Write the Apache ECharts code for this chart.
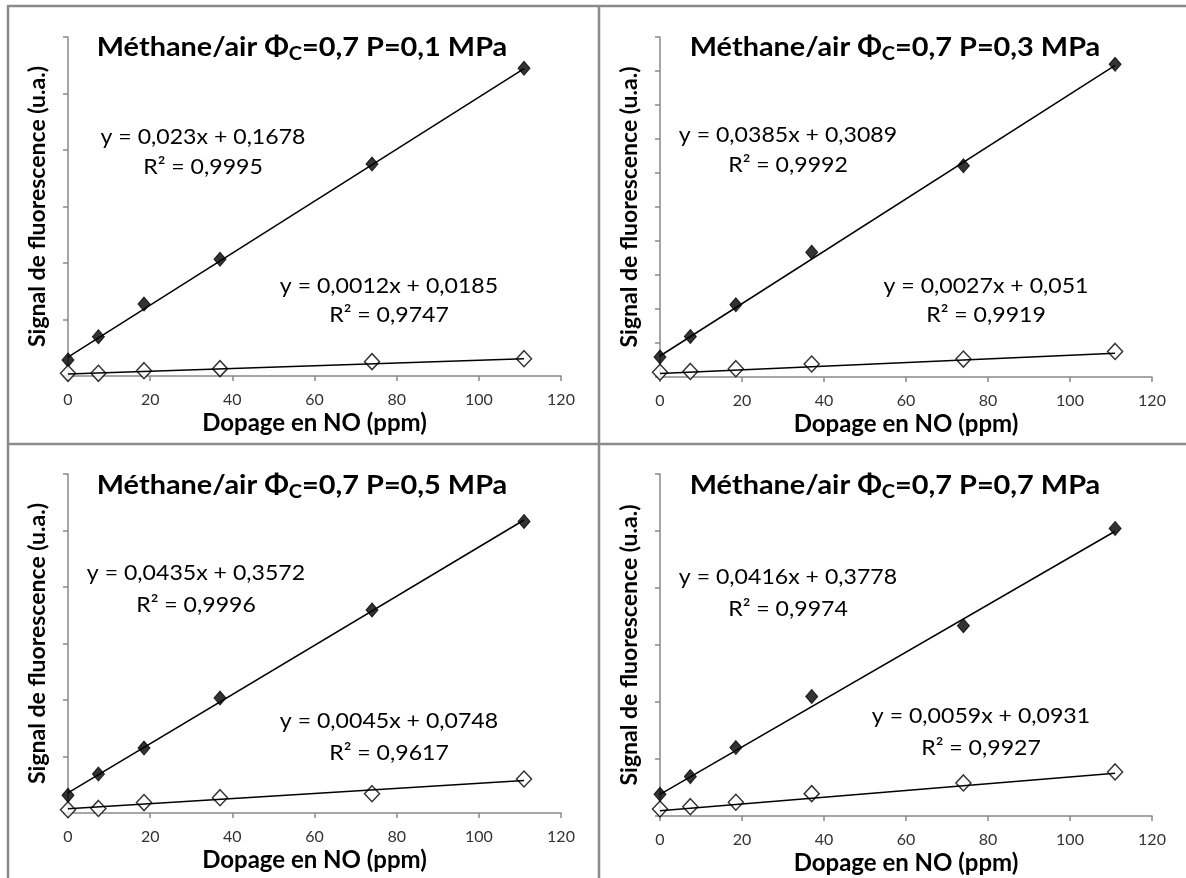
<!DOCTYPE html>
<html>
<head>
<meta charset="utf-8">
<script src="https://cdn.jsdelivr.net/npm/echarts@6/dist/echarts.min.js"></script>
<style>
html,body{margin:0;padding:0;background:#fff;}
#chart{width:1186px;height:878px;}
</style>
</head>
<body>
<div id="chart"></div>
<script>
// ---- data ----
const doping = [0, 7.4, 18.5, 37, 74, 111];
const xTicks = [0, 20, 40, 60, 80, 100, 120];
const pressures = ['0,1', '0,3', '0,5', '0,7'];

const filled1 = [0.142, 0.348, 0.637, 1.033, 1.876, 2.723];
const open1   = [0.024, 0.024, 0.047, 0.065, 0.127, 0.153];
const filled2 = [0.294, 0.596, 1.061, 1.835, 3.106, 4.599];
const open2   = [0.070, 0.082, 0.122, 0.191, 0.264, 0.376];
const filled3 = [0.312, 0.690, 1.150, 2.035, 3.593, 5.161];
const open3   = [0.058, 0.081, 0.185, 0.271, 0.342, 0.602];
const filled4 = [0.381, 0.691, 1.200, 2.097, 3.339, 5.044];
const open4   = [0.123, 0.163, 0.241, 0.392, 0.580, 0.773];

// trend line end values (x = 0 and x = 111)
const fitFilledEnds = [[0.1678, 2.7208], [0.3089, 4.5824], [0.3572, 5.1857], [0.3778, 4.9954]];
const fitOpenEnds   = [[0.0185, 0.1517], [0.0510, 0.3507], [0.0748, 0.5743], [0.0931, 0.7480]];

const eqFilled = ['y = 0,023x + 0,1678', 'y = 0,0385x + 0,3089', 'y = 0,0435x + 0,3572', 'y = 0,0416x + 0,3778'];
const r2Filled = ['R² = 0,9995', 'R² = 0,9992', 'R² = 0,9996', 'R² = 0,9974'];
const eqOpen   = ['y = 0,0012x + 0,0185', 'y = 0,0027x + 0,051', 'y = 0,0045x + 0,0748', 'y = 0,0059x + 0,0931'];
const r2Open   = ['R² = 0,9747', 'R² = 0,9919', 'R² = 0,9617', 'R² = 0,9927'];

const yMax = [3, 5, 6, 6];
const yInterval = [0.5, 0.5, 1, 1];

const filledAll = [filled1, filled2, filled3, filled4];
const openAll = [open1, open2, open3, open4];

// ---- layout ----
const FONT = 'Lato, "Open Sans", sans-serif';
const grids = [
  {left: 68,  top: 37,  width: 493, height: 339},
  {left: 660, top: 37,  width: 492, height: 340},
  {left: 68,  top: 474, width: 493, height: 339},
  {left: 660, top: 474, width: 492, height: 342}
];
const titlePos = [[302, 48], [895, 48], [302, 486], [895, 486]];
const eqTopPos = [[203, 137, 167], [788, 135, 165], [196, 573, 605], [788, 577, 609]];
const eqBotPos = [[389, 286, 315], [986, 286, 315], [389, 721, 753], [981, 716, 748]];

const xAxes = [], yAxes = [], series = [], graphics = [];
const axisGray = '#898989';

for (let i = 0; i < 4; i++) {
  xAxes.push({
    type: 'value', gridIndex: i, min: 0, max: 120, interval: 20,
    name: 'Dopage en NO (ppm)', nameLocation: 'middle', nameGap: 35,
    nameTextStyle: {fontFamily: FONT, fontWeight: 'bold', fontSize: 24, color: '#000'},
    axisLine: {show: true, lineStyle: {color: axisGray, width: 1.5}},
    axisTick: {show: true, inside: false, length: 5, lineStyle: {color: axisGray, width: 1.5}},
    axisLabel: {show: false},
    splitLine: {show: false}
  });
  yAxes.push({
    type: 'value', gridIndex: i, min: 0, max: yMax[i], interval: yInterval[i],
    name: 'Signal de fluorescence (u.a.)', nameLocation: 'middle', nameGap: 19,
    nameTextStyle: {fontFamily: FONT, fontWeight: 'bold', fontSize: 23, color: '#000'},
    axisLine: {show: true, onZero: false, lineStyle: {color: axisGray, width: 1.5}},
    axisTick: {show: true, inside: false, length: 5, lineStyle: {color: axisGray, width: 1.5}},
    axisLabel: {show: false},
    splitLine: {show: false}
  });
  series.push({
    type: 'scatter', xAxisIndex: i, yAxisIndex: i, symbol: 'diamond', symbolSize: [12, 14],
    itemStyle: {color: '#000', borderColor: '#000', borderWidth: 1},
    data: doping.map((x, k) => [x, filledAll[i][k]]), z: 3, silent: true
  });
  series.push({
    type: 'scatter', xAxisIndex: i, yAxisIndex: i, symbol: 'diamond', symbolSize: [15, 16],
    itemStyle: {color: '#fff', borderColor: '#000', borderWidth: 1.5},
    data: doping.map((x, k) => [x, openAll[i][k]]), z: 3, silent: true
  });
  series.push({
    type: 'line', xAxisIndex: i, yAxisIndex: i, showSymbol: false, symbol: 'none',
    lineStyle: {color: '#000', width: 1.5},
    data: [[doping[0], fitFilledEnds[i][0]], [doping[doping.length - 1], fitFilledEnds[i][1]]], z: 4, silent: true
  });
  series.push({
    type: 'line', xAxisIndex: i, yAxisIndex: i, showSymbol: false, symbol: 'none',
    lineStyle: {color: '#000', width: 1.5},
    data: [[doping[0], fitOpenEnds[i][0]], [doping[doping.length - 1], fitOpenEnds[i][1]]], z: 4, silent: true
  });

  // title with subscript
  graphics.push({
    type: 'text', x: titlePos[i][0], y: titlePos[i][1], scaleX: 1.11, z: 10,
    style: {
      text: '{m|Méthane/air Φ}{s|C}{m|=0,7 P=' + pressures[i] + ' MPa}',
      align: 'center', verticalAlign: 'middle',
      rich: {
        m: {fontFamily: FONT, fontWeight: 'bold', fontSize: 26, lineHeight: 30, fill: '#000', verticalAlign: 'middle'},
        s: {fontFamily: FONT, fontWeight: 'bold', fontSize: 18, lineHeight: 16, fill: '#000', verticalAlign: 'bottom'}
      }
    }
  });
  const eqStyle = {fontFamily: FONT, fontSize: 22, fill: '#000', align: 'center', verticalAlign: 'middle'};
  const eqText = (x, y, t) => ({type: 'text', x: x, y: y, scaleX: 1.05, z: 10, style: Object.assign({text: t}, eqStyle)});
  graphics.push(eqText(eqTopPos[i][0], eqTopPos[i][1], eqFilled[i]));
  graphics.push(eqText(eqTopPos[i][0], eqTopPos[i][2], r2Filled[i]));
  graphics.push(eqText(eqBotPos[i][0], eqBotPos[i][1], eqOpen[i]));
  graphics.push(eqText(eqBotPos[i][0], eqBotPos[i][2], r2Open[i]));
}

// panel frame lines
const frameStyle = {stroke: '#8a8a8a', lineWidth: 2.5};
graphics.push({type: 'line', shape: {x1: 8, y1: 6, x2: 8, y2: 878}, style: frameStyle, z: 1});
graphics.push({type: 'line', shape: {x1: 7, y1: 6, x2: 1186, y2: 6}, style: frameStyle, z: 1});
graphics.push({type: 'line', shape: {x1: 599, y1: 6, x2: 599, y2: 878}, style: frameStyle, z: 1});
graphics.push({type: 'line', shape: {x1: 7, y1: 444, x2: 1186, y2: 444}, style: frameStyle, z: 1});

const chart = echarts.init(document.getElementById('chart'), null, {renderer: 'canvas'});
chart.setOption({
  animation: false,
  backgroundColor: '#fff',
  grid: grids,
  xAxis: xAxes,
  yAxis: yAxes,
  series: series,
  graphic: graphics
});

// x tick labels placed through the axis scale
const tickLabels = [];
for (let i = 0; i < 4; i++) {
  xTicks.forEach(v => {
    const p = chart.convertToPixel({xAxisIndex: i, yAxisIndex: i}, [v, 0]);
    tickLabels.push({
      type: 'text', x: p[0], y: p[1] + 24, z: 10, silent: true,
      style: {text: String(v), fontFamily: FONT, fontSize: 16, fill: '#333', align: 'center', verticalAlign: 'middle'}
    });
  });
}
chart.setOption({graphic: graphics.concat(tickLabels)});
</script>
</body>
</html>
